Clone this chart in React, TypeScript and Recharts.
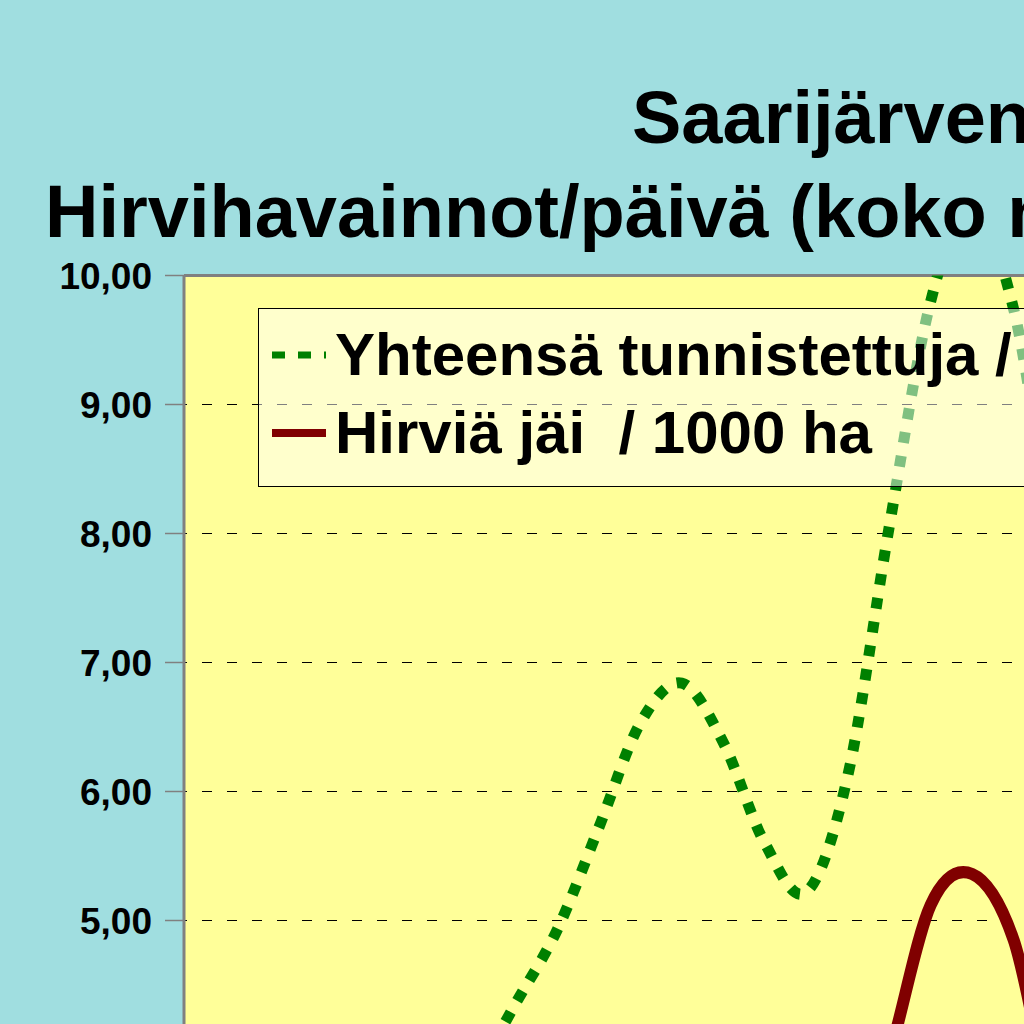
import { LineChart, Line, XAxis, YAxis, CartesianGrid, Legend, ReferenceLine } from "recharts";

// Years on the (off-screen) category axis
const years = [
    1985, 1986, 1987, 1988, 1989, 1990, 1991, 1992, 1993, 1994,
    1995, 1996, 1997, 1998, 1999, 2000, 2001, 2002, 2003, 2004,
    2005, 2006, 2007, 2008, 2009, 2010, 2011, 2012,
];

// Yhteensä tunnistettuja / 1000 ha
const tunnistettuja = [
    2.9, 3.1, 2.8, 3.2, 3.5, 3.3, 3.4, 3.8, 4.36, 4.93,
    5.72, 6.53, 6.84, 6.38, 5.6, 5.22, 6.12, 8.05, 9.8, 10.55,
    9.74, 8.0, 7.6, 8.3, 9.0, 8.4, 7.7, 8.1,
];

// Hirviä jäi / 1000 ha
const jai = [
    2.0, 2.2, 2.1, 2.4, 2.6, 2.5, 2.7, 2.6, 2.9, 3.0,
    3.2, 3.1, 2.9, 2.7, 2.8, 2.6, 3.0, 3.95, 5.12, 5.36,
    4.85, 3.5, 3.2, 3.6, 4.0, 3.8, 3.4, 3.6,
];

const yTicks = [0, 1, 2, 3, 4, 5, 6, 7, 8, 9, 10];

const SERIES_GREEN = "Yhteensä tunnistettuja / 1000 ha";
const SERIES_RED = "Hirviä jäi  / 1000 ha";

const FONT = '"Liberation Sans", Arial, Helvetica, sans-serif';

const data = years.map((year, i) => ({
    year,
    tunnistettuja: tunnistettuja[i],
    jai: jai[i],
}));

// Excel-like smoothed line: Catmull-Rom through every point
const excelSmooth = (context: any) => {
    let pts: number[][] = [];
    return {
        areaStart() {},
        areaEnd() {},
        lineStart() {
            pts = [];
        },
        lineEnd() {
            if (!pts.length) return;
            context.moveTo(pts[0][0], pts[0][1]);
            for (let i = 0; i < pts.length - 1; i++) {
                const p0 = pts[Math.max(i - 1, 0)];
                const p1 = pts[i];
                const p2 = pts[i + 1];
                const p3 = pts[Math.min(i + 2, pts.length - 1)];
                context.bezierCurveTo(
                    p1[0] + (p2[0] - p0[0]) / 6,
                    p1[1] + (p2[1] - p0[1]) / 6,
                    p2[0] - (p3[0] - p1[0]) / 6,
                    p2[1] - (p3[1] - p1[1]) / 6,
                    p2[0],
                    p2[1]
                );
            }
        },
        point(x: number, y: number) {
            pts.push([+x, +y]);
        },
    };
};

const rowStyle: React.CSSProperties = {
    position: "absolute",
    left: 13,
    height: 78,
    display: "flex",
    alignItems: "center",
    whiteSpace: "pre",
};

const LegendBox = () => (
    <div
        style={{
            boxSizing: "border-box",
            width: "100%",
            height: "100%",
            position: "relative",
            border: "1px solid #000",
            background: "rgba(255,255,255,0.5)",
            fontFamily: FONT,
            fontWeight: "bold",
            fontSize: 60,
            color: "#000",
        }}
    >
        <div style={{ ...rowStyle, top: 7 }}>
            <svg width={54} height={10} style={{ marginRight: 9 }}>
                <line x1={0} y1={5} x2={54} y2={5} stroke="#008000" strokeWidth={7} strokeDasharray="13 13" />
            </svg>
            <span style={{ lineHeight: "78px" }}>{SERIES_GREEN}</span>
        </div>
        <div style={{ ...rowStyle, top: 85 }}>
            <svg width={54} height={10} style={{ marginRight: 9 }}>
                <line x1={0} y1={5} x2={54} y2={5} stroke="#800000" strokeWidth={8} />
            </svg>
            <span style={{ lineHeight: "78px" }}>{SERIES_RED}</span>
        </div>
    </div>
);

const titleStyle: React.CSSProperties = {
    position: "absolute",
    fontFamily: FONT,
    fontWeight: "bold",
    fontSize: 74,
    lineHeight: 1,
    whiteSpace: "nowrap",
    color: "#000",
};

export default function App() {
    return (
        <div
            style={{
                position: "absolute",
                left: 0,
                top: 0,
                width: 1024,
                height: 1024,
                overflow: "hidden",
                background: "#A0DEE0",
            }}
        >
            <div style={{ ...titleStyle, left: 632, top: 81 }}>Saarijärven riistanhoitoyhdistys</div>
            <div style={{ ...titleStyle, left: 45, top: 175 }}>Hirvihavainnot/päivä (koko maa)</div>
            <div style={{ position: "absolute", left: 0, top: 0 }}>
                <LineChart
                    width={1344}
                    height={1640}
                    data={data}
                    margin={{ top: 275.5, right: 40, left: 0, bottom: 34.5 }}
                >
                    <CartesianGrid
                        vertical={false}
                        stroke="#000"
                        strokeDasharray="10 15"
                        strokeDashoffset={7}
                        fill="#FFFF99"
                        fillOpacity={1}
                    />
                    <ReferenceLine y={10} stroke="#808080" strokeWidth={3} />
                    <XAxis
                        dataKey="year"
                        height={40}
                        interval={0}
                        axisLine={{ stroke: "#808080", strokeWidth: 3 }}
                        tickLine={{ stroke: "#808080" }}
                        tick={{ fill: "#000", fontSize: 20, fontWeight: "bold", fontFamily: FONT }}
                    />
                    <YAxis
                        domain={[0, 10]}
                        ticks={yTicks}
                        interval={0}
                        allowDataOverflow
                        width={184}
                        tickSize={19}
                        tickMargin={13}
                        tickFormatter={(v: number) => v.toFixed(2).replace(".", ",")}
                        tick={{ fill: "#000", fontSize: 37, fontWeight: "bold", fontFamily: FONT }}
                        axisLine={{ stroke: "#808080", strokeWidth: 3 }}
                        tickLine={{ stroke: "#808080", strokeWidth: 1.5 }}
                    />
                    <Line
                        dataKey="tunnistettuja"
                        name={SERIES_GREEN}
                        type={excelSmooth as any}
                        stroke="#008000"
                        strokeWidth={11}
                        strokeDasharray="11 13"
                        dot={false}
                        activeDot={false}
                        isAnimationActive={false}
                    />
                    <Line
                        dataKey="jai"
                        name={SERIES_RED}
                        type={excelSmooth as any}
                        stroke="#800000"
                        strokeWidth={12}
                        dot={false}
                        activeDot={false}
                        isAnimationActive={false}
                    />
                    <Legend
                        layout="vertical"
                        align="center"
                        verticalAlign="middle"
                        content={() => <LegendBox />}
                        wrapperStyle={{ left: 258, top: 308, width: 900, height: 179 }}
                    />
                </LineChart>
            </div>
        </div>
    );
}
